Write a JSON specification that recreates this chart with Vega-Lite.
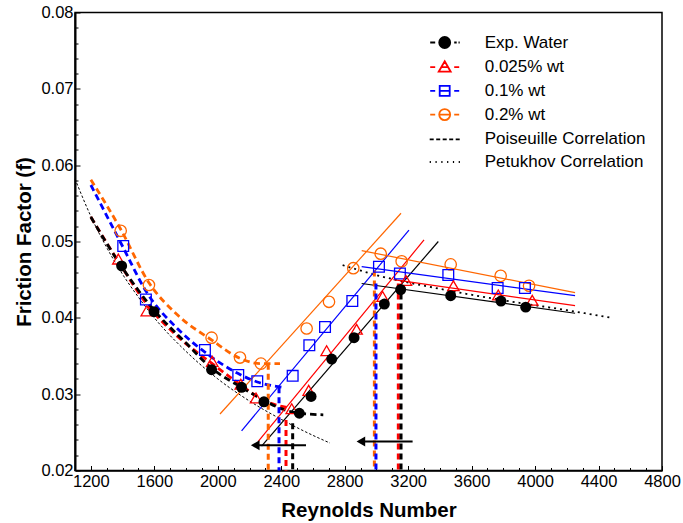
{
  "$schema": "https://vega.github.io/schema/vega-lite/v6.json",
  "width": 587,
  "height": 458,
  "autosize": "none",
  "padding": {"left": 75, "top": 12.5, "right": 21, "bottom": 52.5},
  "background": "white",
  "config": {"view": {"stroke": "black", "strokeWidth": 1.5}, "font": "Liberation Sans"},
  "datasets": {
    "pois": [{"Re":1100,"f":0.0582},{"Re":1200,"f":0.0533},{"Re":1300,"f":0.0492},{"Re":1400,"f":0.0457},{"Re":1500,"f":0.0427},{"Re":1600,"f":0.0400},{"Re":1800,"f":0.0356},{"Re":2000,"f":0.0320},{"Re":2200,"f":0.0291},{"Re":2400,"f":0.0267},{"Re":2600,"f":0.0246},{"Re":2707,"f":0.0236}],
    "pet": [{"Re":2787,"f":0.0469},{"Re":3000,"f":0.0456},{"Re":3400,"f":0.0438},{"Re":3800,"f":0.0423},{"Re":4200,"f":0.0410},{"Re":4483,"f":0.0400}],
    "lam": [
      {"series":"0.2% wt","Re":1200,"f":0.0581},{"series":"0.2% wt","Re":1388,"f":0.0516},{"series":"0.2% wt","Re":1566,"f":0.0446},{"series":"0.2% wt","Re":1750,"f":0.0403},{"series":"0.2% wt","Re":1961,"f":0.0371},{"series":"0.2% wt","Re":2140,"f":0.0347},{"series":"0.2% wt","Re":2272,"f":0.0340},{"series":"0.2% wt","Re":2392,"f":0.0340},
      {"series":"0.1% wt","Re":1200,"f":0.0574},{"series":"0.1% wt","Re":1404,"f":0.0492},{"series":"0.1% wt","Re":1547,"f":0.0435},{"series":"0.1% wt","Re":1750,"f":0.0385},{"series":"0.1% wt","Re":1919,"f":0.0355},{"series":"0.1% wt","Re":2129,"f":0.0327},{"series":"0.1% wt","Re":2249,"f":0.0316},{"series":"0.1% wt","Re":2413,"f":0.0309},
      {"series":"0.025% wt","Re":1200,"f":0.0532},{"series":"0.025% wt","Re":1373,"f":0.0474},{"series":"0.025% wt","Re":1552,"f":0.0418},{"series":"0.025% wt","Re":1750,"f":0.0375},{"series":"0.025% wt","Re":1965,"f":0.0340},{"series":"0.025% wt","Re":2145,"f":0.0312},{"series":"0.025% wt","Re":2241,"f":0.0298},{"series":"0.025% wt","Re":2350,"f":0.0287},{"series":"0.025% wt","Re":2455,"f":0.0282},
      {"series":"Exp. Water","Re":1200,"f":0.0532},{"series":"Exp. Water","Re":1394,"f":0.0467},{"series":"Exp. Water","Re":1598,"f":0.0410},{"series":"Exp. Water","Re":1800,"f":0.0367},{"series":"Exp. Water","Re":1961,"f":0.0334},{"series":"Exp. Water","Re":2150,"f":0.0309},{"series":"Exp. Water","Re":2291,"f":0.0292},{"series":"Exp. Water","Re":2400,"f":0.0281},{"series":"Exp. Water","Re":2514,"f":0.0275},{"series":"Exp. Water","Re":2665,"f":0.0273}
    ],
    "fits": [
      {"series":"0.2% wt","seg":"t","Re":2014,"f":0.0274},{"series":"0.2% wt","seg":"t","Re":3155,"f":0.0537},
      {"series":"0.1% wt","seg":"t","Re":2150,"f":0.0252},{"series":"0.1% wt","seg":"t","Re":3205,"f":0.0515},
      {"series":"0.025% wt","seg":"t","Re":2255,"f":0.0238},{"series":"0.025% wt","seg":"t","Re":3300,"f":0.0502},
      {"series":"Exp. Water","seg":"t","Re":2276,"f":0.0232},{"series":"Exp. Water","seg":"t","Re":3390,"f":0.0500},
      {"series":"0.2% wt","seg":"u","Re":2907,"f":0.0488},{"series":"0.2% wt","seg":"u","Re":4252,"f":0.0433},
      {"series":"0.1% wt","seg":"u","Re":2907,"f":0.0467},{"series":"0.1% wt","seg":"u","Re":4252,"f":0.0429},
      {"series":"0.025% wt","seg":"u","Re":3107,"f":0.0450},{"series":"0.025% wt","seg":"u","Re":4252,"f":0.0416},
      {"series":"Exp. Water","seg":"u","Re":2907,"f":0.0445},{"series":"Exp. Water","seg":"u","Re":4252,"f":0.0406}
    ],
    "vert": [
      {"series":"0.2% wt","Re":2318,"f":0.0340,"f2":0.02},
      {"series":"0.1% wt","Re":2386,"f":0.0309,"f2":0.02},
      {"series":"0.025% wt","Re":2430,"f":0.0266,"f2":0.02},
      {"series":"Exp. Water","Re":2472,"f":0.0262,"f2":0.02},
      {"series":"0.2% wt","Re":2987,"f":0.0462,"f2":0.02},
      {"series":"0.1% wt","Re":2997,"f":0.0445,"f2":0.02},
      {"series":"0.025% wt","Re":3138,"f":0.0445,"f2":0.02},
      {"series":"Exp. Water","Re":3155,"f":0.0432,"f2":0.02}
    ],
    "arr": [{"Re":2236,"Re2":2556,"f":0.0233},{"Re":2902,"Re2":3228,"f":0.0238}],
    "arrh": [{"Re":2236,"f":0.0233},{"Re":2902,"f":0.0238}],
    "pts": [
      {"series":"Exp. Water","Re":1394,"f":0.0468},{"series":"Exp. Water","Re":1598,"f":0.0408},{"series":"Exp. Water","Re":1961,"f":0.0332},{"series":"Exp. Water","Re":2150,"f":0.0309},{"series":"Exp. Water","Re":2291,"f":0.0290},{"series":"Exp. Water","Re":2514,"f":0.0275},{"series":"Exp. Water","Re":2588,"f":0.0297},{"series":"Exp. Water","Re":2718,"f":0.0346},{"series":"Exp. Water","Re":2859,"f":0.0374},{"series":"Exp. Water","Re":3050,"f":0.0418},{"series":"Exp. Water","Re":3153,"f":0.0437},{"series":"Exp. Water","Re":3468,"f":0.0429},{"series":"Exp. Water","Re":3785,"f":0.0422},{"series":"Exp. Water","Re":3941,"f":0.0414},
      {"series":"0.025% wt","Re":1373,"f":0.0477},{"series":"0.025% wt","Re":1552,"f":0.0409},{"series":"0.025% wt","Re":1965,"f":0.0343},{"series":"0.025% wt","Re":2145,"f":0.0313},{"series":"0.025% wt","Re":2241,"f":0.0295},{"series":"0.025% wt","Re":2466,"f":0.0281},{"series":"0.025% wt","Re":2573,"f":0.0305},{"series":"0.025% wt","Re":2686,"f":0.0357},{"series":"0.025% wt","Re":2875,"f":0.0385},{"series":"0.025% wt","Re":3039,"f":0.0428},{"series":"0.025% wt","Re":3186,"f":0.0449},{"series":"0.025% wt","Re":3485,"f":0.0442},{"series":"0.025% wt","Re":3768,"f":0.0430},{"series":"0.025% wt","Re":3982,"f":0.0423},
      {"series":"0.1% wt","Re":1404,"f":0.0494},{"series":"0.1% wt","Re":1547,"f":0.0424},{"series":"0.1% wt","Re":1919,"f":0.0358},{"series":"0.1% wt","Re":2129,"f":0.0325},{"series":"0.1% wt","Re":2249,"f":0.0317},{"series":"0.1% wt","Re":2472,"f":0.0324},{"series":"0.1% wt","Re":2577,"f":0.0364},{"series":"0.1% wt","Re":2676,"f":0.0388},{"series":"0.1% wt","Re":2848,"f":0.0422},{"series":"0.1% wt","Re":3016,"f":0.0467},{"series":"0.1% wt","Re":3148,"f":0.0458},{"series":"0.1% wt","Re":3453,"f":0.0456},{"series":"0.1% wt","Re":3764,"f":0.0439},{"series":"0.1% wt","Re":3936,"f":0.0439},
      {"series":"0.2% wt","Re":1388,"f":0.0514},{"series":"0.2% wt","Re":1566,"f":0.0443},{"series":"0.2% wt","Re":1961,"f":0.0374},{"series":"0.2% wt","Re":2140,"f":0.0348},{"series":"0.2% wt","Re":2272,"f":0.0340},{"series":"0.2% wt","Re":2560,"f":0.0386},{"series":"0.2% wt","Re":2701,"f":0.0421},{"series":"0.2% wt","Re":2854,"f":0.0465},{"series":"0.2% wt","Re":3027,"f":0.0484},{"series":"0.2% wt","Re":3159,"f":0.0474},{"series":"0.2% wt","Re":3468,"f":0.0470},{"series":"0.2% wt","Re":3783,"f":0.0455},{"series":"0.2% wt","Re":3962,"f":0.0442}
    ]
  },
  "encoding": {
    "x": {
      "field": "Re", "type": "quantitative",
      "scale": {"domain": [1100, 4800], "nice": false, "zero": false},
      "axis": {
        "title": "Reynolds Number", "titleFont": "Liberation Sans", "titleFontSize": 20.5, "titleFontWeight": "bold", "titleColor": "black", "titlePadding": 8,
        "values": [1200,1300,1400,1500,1600,1700,1800,1900,2000,2100,2200,2300,2400,2500,2600,2700,2800,2900,3000,3100,3200,3300,3400,3500,3600,3700,3800,3900,4000,4100,4200,4300,4400,4500,4600,4700,4800],
        "labelExpr": "datum.value % 400 === 0 ? format(datum.value, 'd') : ''",
        "labelFont": "Liberation Sans", "labelFontSize": 16.5, "labelColor": "black", "labelPadding": 8, "labelFlush": false, "labelOverlap": false,
        "tickColor": "black", "tickWidth": 1,
        "tickSize": {"condition": {"test": "datum.value % 400 === 0", "value": -5}, "value": -3},
        "domainColor": "black", "domainWidth": 1.5, "grid": false
      }
    },
    "y": {
      "field": "f", "type": "quantitative",
      "scale": {"domain": [0.02, 0.08], "nice": false, "zero": false},
      "axis": {
        "title": "Friction Factor (f)", "titleFont": "Liberation Sans", "titleFontSize": 20.5, "titleFontWeight": "bold", "titleColor": "black", "titlePadding": 6,
        "values": [0.02,0.022,0.024,0.026,0.028,0.03,0.032,0.034,0.036,0.038,0.04,0.042,0.044,0.046,0.048,0.05,0.052,0.054,0.056,0.058,0.06,0.062,0.064,0.066,0.068,0.07,0.072,0.074,0.076,0.078,0.08],
        "labelExpr": "abs(datum.value * 100 - round(datum.value * 100)) < 0.001 ? format(datum.value, '.2f') : ''",
        "labelFont": "Liberation Sans", "labelFontSize": 16.5, "labelColor": "black", "labelPadding": 7, "labelFlush": false, "labelOverlap": false,
        "tickColor": "black", "tickWidth": 1,
        "tickSize": {"condition": {"test": "abs(datum.value * 100 - round(datum.value * 100)) < 0.001", "value": -5}, "value": -3},
        "domainColor": "black", "domainWidth": 2, "grid": false
      }
    }
  },
  "layer": [
    {"data": {"name": "pois"}, "mark": {"type": "line", "color": "black", "strokeWidth": 1, "strokeDash": [2.5, 2], "interpolate": "monotone"}, "encoding": {}},
    {"data": {"name": "pet"}, "mark": {"type": "line", "color": "black", "strokeWidth": 1.8, "strokeDash": [2, 4], "interpolate": "monotone"}, "encoding": {}},
    {"data": {"name": "lam"}, "mark": {"type": "line", "strokeWidth": 2.8, "strokeDash": [6.5, 4], "interpolate": "monotone"},
     "encoding": {"color": {"field": "series", "type": "nominal", "scale": {"domain": ["Exp. Water","0.025% wt","0.1% wt","0.2% wt"], "range": ["black","#ff0000","#0000ff","#ff6600"]}, "legend": null}}},
    {"data": {"name": "fits"}, "mark": {"type": "line", "strokeWidth": 1.2},
     "encoding": {"color": {"field": "series", "type": "nominal", "legend": null}, "detail": {"field": "seg", "type": "nominal"}}},
    {"data": {"name": "vert"}, "mark": {"type": "rule", "strokeWidth": 3, "strokeDash": [6, 4]},
     "encoding": {"y2": {"field": "f2"}, "color": {"field": "series", "type": "nominal", "legend": null}}},
    {"data": {"name": "arr"}, "mark": {"type": "rule", "color": "black", "strokeWidth": 2}, "encoding": {"x2": {"field": "Re2"}}},
    {"data": {"name": "arrh"}, "mark": {"type": "point", "shape": "triangle-left", "filled": true, "color": "black", "size": 100, "opacity": 1}, "encoding": {}},
    {"data": {"name": "pts"}, "transform": [{"filter": "datum.series === '0.2% wt'"}], "mark": {"type": "point", "shape": "circle", "filled": false, "color": "#ff6600", "size": 130, "strokeWidth": 1.3, "opacity": 1}, "encoding": {}},
    {"data": {"name": "pts"}, "transform": [{"filter": "datum.series === '0.1% wt'"}], "mark": {"type": "point", "shape": "square", "filled": false, "color": "#0000ff", "size": 115, "strokeWidth": 1.3, "opacity": 1}, "encoding": {}},
    {"data": {"name": "pts"}, "transform": [{"filter": "datum.series === '0.025% wt'"}], "mark": {"type": "point", "shape": "triangle-up", "filled": false, "color": "#ff0000", "size": 130, "strokeWidth": 1.3, "opacity": 1}, "encoding": {}},
    {"data": {"name": "pts"}, "transform": [{"filter": "datum.series === 'Exp. Water'"}], "mark": {"type": "point", "shape": "circle", "filled": true, "color": "black", "size": 120, "opacity": 1}, "encoding": {}},
    {"data": {"values": []}, "mark": {"type": "point", "strokeWidth": 1.8, "opacity": 1},
     "encoding": {
       "shape": {"field": "series", "type": "nominal",
         "scale": {"domain": ["Exp. Water","0.025% wt","0.1% wt","0.2% wt","Poiseuille Correlation","Petukhov Correlation"],
           "range": [
             "M-1.45,0H-0.95M-0.55,0A0.55,0.55 0 1,1 0.55,0A0.55,0.55 0 1,1 -0.55,0ZM0.95,0H1.2M1.38,0H1.5",
             "M-1.45,0H-0.95M0,-0.6L0.6,0.45L-0.6,0.45ZM-0.4,0H0.4M0.95,0H1.45",
             "M-1.45,0H-0.95M-0.5,-0.5H0.5V0.5H-0.5ZM-0.5,0H0.5M0.95,0H1.45",
             "M-1.45,0H-0.95M-0.55,0A0.55,0.55 0 1,1 0.55,0A0.55,0.55 0 1,1 -0.55,0ZM-0.55,0H0.55M0.95,0H1.45",
             "M-1.5,0H-1.1M-0.85,0H-0.45M-0.2,0H0.2M0.45,0H0.85M1.1,0H1.5",
             "M-1.5,0H-1.38M-0.92,0H-0.8M-0.34,0H-0.22M0.24,0H0.36M0.82,0H0.94M1.4,0H1.52"
           ]},
         "legend": {"title": null, "orient": "none", "legendX": 358.7, "legendY": 19, "padding": 0, "symbolSize": 400, "symbolStrokeWidth": 1.8, "labelFont": "Liberation Sans", "labelFontSize": 17, "labelColor": "black", "labelOffset": 29, "labelLimit": 300, "rowPadding": 3.7}},
       "stroke": {"field": "series", "type": "nominal",
         "scale": {"domain": ["Exp. Water","0.025% wt","0.1% wt","0.2% wt","Poiseuille Correlation","Petukhov Correlation"], "range": ["black","#ff0000","#0000ff","#ff6600","black","black"]},
         "legend": {"title": null, "orient": "none", "legendX": 358.7, "legendY": 19, "padding": 0, "symbolSize": 400, "symbolStrokeWidth": 1.8, "labelFont": "Liberation Sans", "labelFontSize": 17, "labelColor": "black", "labelOffset": 29, "labelLimit": 300, "rowPadding": 3.7}},
       "fill": {"field": "series", "type": "nominal",
         "scale": {"domain": ["Exp. Water","0.025% wt","0.1% wt","0.2% wt","Poiseuille Correlation","Petukhov Correlation"], "range": ["black","transparent","transparent","transparent","transparent","transparent"]},
         "legend": {"title": null, "orient": "none", "legendX": 358.7, "legendY": 19, "padding": 0, "symbolSize": 400, "symbolStrokeWidth": 1.8, "labelFont": "Liberation Sans", "labelFontSize": 17, "labelColor": "black", "labelOffset": 29, "labelLimit": 300, "rowPadding": 3.7}}
     }}
  ]
}
